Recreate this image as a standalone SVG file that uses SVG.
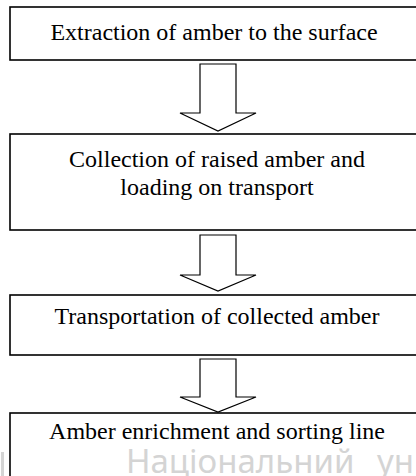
<svg xmlns="http://www.w3.org/2000/svg" width="416" height="476" viewBox="0 0 416 476">
<style>
.box{fill:#fff;stroke:#000;stroke-width:1.6}
.arr{fill:#fff;stroke:#000;stroke-width:1.2;stroke-linejoin:miter}
.t{font-family:'Liberation Serif','Times New Roman',serif;font-size:24px;fill:#000;text-anchor:middle}
.wm{font-family:'Noto Sans','DejaVu Sans',sans-serif;font-size:33px;fill:#d4d4d4;word-spacing:14px}
</style>
<rect width="416" height="476" fill="#fff"/>
<g id="n1"><rect class="box" x="10" y="7" width="416" height="53"/><text class="t" x="214" y="40">Extraction of amber to the surface</text></g>
<g id="n2"><rect class="box" x="10" y="134" width="416" height="96"/><text class="t" x="217" y="167">Collection of raised amber and</text><text class="t" x="217" y="195">loading on transport</text></g>
<g id="n3"><rect class="box" x="10" y="295" width="416" height="60"/><text class="t" x="217" y="324">Transportation of collected amber</text></g>
<g id="n4"><rect class="box" x="10" y="413" width="416" height="80"/><text class="t" x="217" y="439">Amber enrichment and sorting line</text></g>
<g id="connectors">
<polygon class="arr" points="200,64 236,64 236,113 256,113 218,131 180,113 200,113"/>
<polygon class="arr" points="200,235 236,235 236,275 256,275 218,291 180,275 200,275"/>
<polygon class="arr" points="200,359 236,359 236,397 256,397 218,412 180,397 200,397"/>
</g>
<g id="watermark"><text class="wm" x="126" y="473">Національний ун</text><rect x="1" y="452" width="3" height="24" fill="#d4d4d4"/></g>
</svg>
